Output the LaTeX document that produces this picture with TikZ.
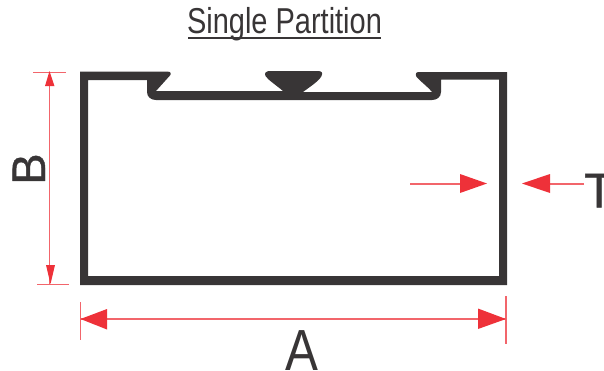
\documentclass[tikz,border=0pt]{standalone}
\usepackage{fontspec}
\setmainfont{Liberation Sans}
\newfontfamily\heavierfont[FakeBold=0.8]{Liberation Sans}
\definecolor{profile}{HTML}{383536}
\definecolor{dimred}{HTML}{EE3139}
\tikzset{
  dimline/.style={draw=dimred!75,line width=1.2pt},
  dimhead/.style={fill=dimred,draw=none},
  biglabel/.style={text=profile,inner sep=0pt,font=\heavierfont\fontsize{49}{49}\selectfont},
  titlelabel/.style={text=profile,inner sep=0pt,font=\fontsize{36}{36}\selectfont,xscale=0.805,anchor=base}
}
\begin{document}
\begin{tikzpicture}[x=1pt,y=-1pt]
\useasboundingbox (0,0) rectangle (604,370);
\clip (0,0) rectangle (604,370);
% profile
\fill[profile] (80,71.5) -- (167,71.5)
  .. controls (171,71.5) and (172,74) .. (169.5,76)
  -- (156,91) -- (283,91)
  .. controls (276,85) and (268,80) .. (265.5,76)
  .. controls (264,73) and (266,71) .. (270,71)
  -- (318,71)
  .. controls (322,71) and (323,73) .. (321.5,76)
  .. controls (319,81) and (311,86) .. (303,92)
  -- (432,92)
  .. controls (427,86) and (420,81) .. (416.5,77)
  .. controls (415,74) and (416,72) .. (419,72)
  -- (507,72) -- (507,285) -- (80,285) -- cycle
  (88,80) -- (88,276) -- (499,276) -- (499,79.5) -- (441,79.5)
  -- (441,92) .. controls (441,97) and (437,100) .. (432,100)
  -- (156,100) .. controls (151,100) and (147,97) .. (147,92)
  -- (147,80) -- cycle;
% named points
\coordinate (bt) at (49.5,71);
\coordinate (bb) at (50.5,284);
\coordinate (al) at (80.5,319);
\coordinate (ar) at (506,319);
\coordinate (tl) at (410,184);
\coordinate (tlh) at (487,183.5);
\coordinate (tr) at (584,184);
\coordinate (trh) at (522,183.5);
% B
\draw[dimline] (33,72.5) -- (66,72.5);
\draw[dimline] (37,284.5) -- (69,284.5);
\draw[dimline] (49.7,72) -- (49.7,284);
\fill[dimhead] (bt) -- (45,86) -- (54.5,86) -- cycle;
\fill[dimhead] (bb) -- (46,265) -- (55,265) -- cycle;
% A
\draw[dimline] (80.5,302) -- (80.5,340);
\draw[dimline] (506,296) -- (506,344);
\draw[dimline] (al) -- (ar);
\fill[dimhead] (al) -- (107,309) -- (107,329.5) -- cycle;
\fill[dimhead] (ar) -- (478,308.5) -- (478,329) -- cycle;
% T
\draw[dimline] (tl) -- (460,184);
\fill[dimhead] (tlh) -- (460,174) -- (460,193) -- cycle;
\draw[dimline] (tr) -- (550,184);
\fill[dimhead] (trh) -- (550,174) -- (550,193) -- cycle;
% labels
\node[titlelabel] (title) at (284.5,33) {Single Partition};
\draw[profile,line width=2pt] (188,38) -- (381,38);
\node[biglabel,anchor=base,font=\fontsize{58}{58}\selectfont,xscale=0.85] (a) at (301.5,370) {A};
\node[biglabel,anchor=base,rotate=90,font=\heavierfont\fontsize{47}{47}\selectfont] (b) at (45,169) {B};
\node[biglabel,anchor=base west] (t) at (584,207.5) {T};
\end{tikzpicture}
\end{document}
